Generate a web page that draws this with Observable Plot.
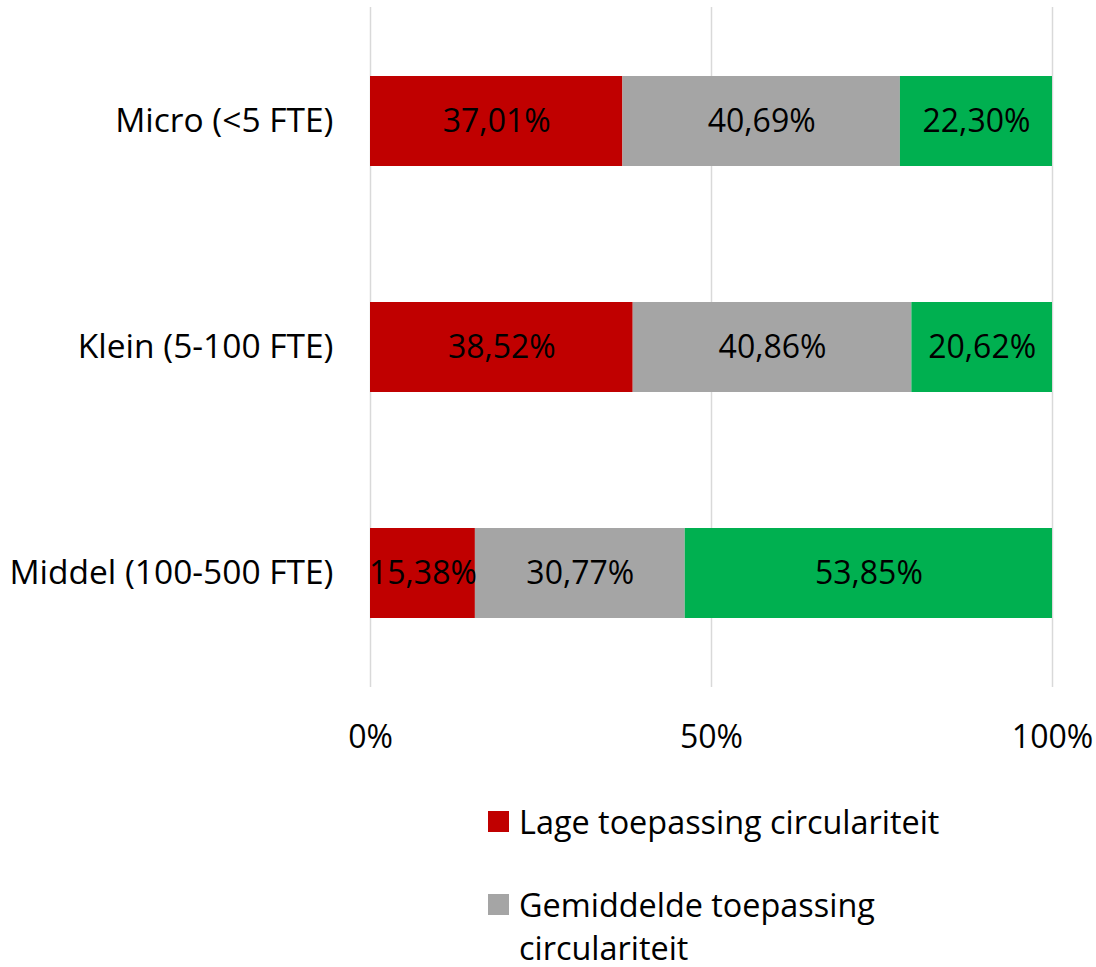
<!DOCTYPE html>
<html>
<head>
<meta charset="utf-8">
<script src="https://cdn.jsdelivr.net/npm/d3@7"></script>
<script src="https://cdn.jsdelivr.net/npm/@observablehq/plot@0.6"></script>
<style>
  html, body { margin: 0; padding: 0; background: #fff; }
  body { font-family: "Open Sans", sans-serif; width: 1096px; }
  #legend { margin-top: 10px; margin-left: 488px; font-size: 32.4px; color: #000; }
  .item { display: flex; align-items: flex-start; margin-bottom: 40px; }
  .sw { width: 21px; height: 21px; margin-top: 11px; margin-right: 10px; flex: none; }
  .lab { line-height: 43px; max-width: 440px; }
</style>
</head>
<body>
<div id="chart"></div>
<div id="legend"></div>
<script>
const categories = ["Micro (<5 FTE)", "Klein (5-100 FTE)", "Middel (100-500 FTE)"];
const seriesNames = ["Lage toepassing circulariteit", "Gemiddelde toepassing circulariteit", "Hoge toepassing circulariteit"];
const lage = [37.01, 38.52, 15.38];
const gemiddelde = [40.69, 40.86, 30.77];
const hoge = [22.30, 20.62, 53.85];
const xTicks = [0, 50, 100];
const colors = ["#C00000", "#A5A5A5", "#00B050"];
const legendShown = [0, 1];

const seriesValues = [lage, gemiddelde, hoge];
const data = [];
seriesValues.forEach((vals, s) => {
  vals.forEach((v, i) => data.push({cat: categories[i], series: seriesNames[s], value: v}));
});
const fmt = v => v.toFixed(2).replace(".", ",") + "%";

const chart = Plot.plot({
  width: 1096,
  height: 790,
  marginLeft: 370,
  marginRight: 44,
  marginTop: 7,
  marginBottom: 103,
  style: {fontFamily: "Open Sans, sans-serif", fontSize: "32px", color: "#000", background: "#fff"},
  x: {domain: [0, 100], ticks: xTicks, tickFormat: d => d + "%", tickSize: 0, tickPadding: 38, label: null},
  y: {domain: categories, paddingInner: 0.6, paddingOuter: 0.3, tickSize: 0, tickPadding: 37, label: null},
  color: {domain: seriesNames, range: colors},
  marks: [
    Plot.gridX(xTicks, {stroke: "#d9d9d9", strokeOpacity: 1, strokeWidth: 1.5}),
    Plot.barX(data, Plot.stackX({x: "value", y: "cat", fill: "series", order: seriesNames})),
    Plot.text(data, Plot.stackX({x: "value", y: "cat", z: "series", order: seriesNames, text: d => fmt(d.value), fill: "#000", fontSize: 32})),
    Plot.axisX({ticks: xTicks, tickFormat: d => d + "%", tickSize: 0, tickPadding: 38, fontSize: 32}),
    Plot.axisY({tickSize: 0, tickPadding: 37, fontSize: 33.5})
  ]
});
document.getElementById("chart").appendChild(chart);

const legend = document.getElementById("legend");
legendShown.forEach(i => {
  const item = document.createElement("div");
  item.className = "item";
  const sw = document.createElement("div");
  sw.className = "sw";
  sw.style.background = colors[i];
  const lab = document.createElement("div");
  lab.className = "lab";
  lab.textContent = seriesNames[i];
  item.appendChild(sw);
  item.appendChild(lab);
  legend.appendChild(item);
});
</script>
</body>
</html>
